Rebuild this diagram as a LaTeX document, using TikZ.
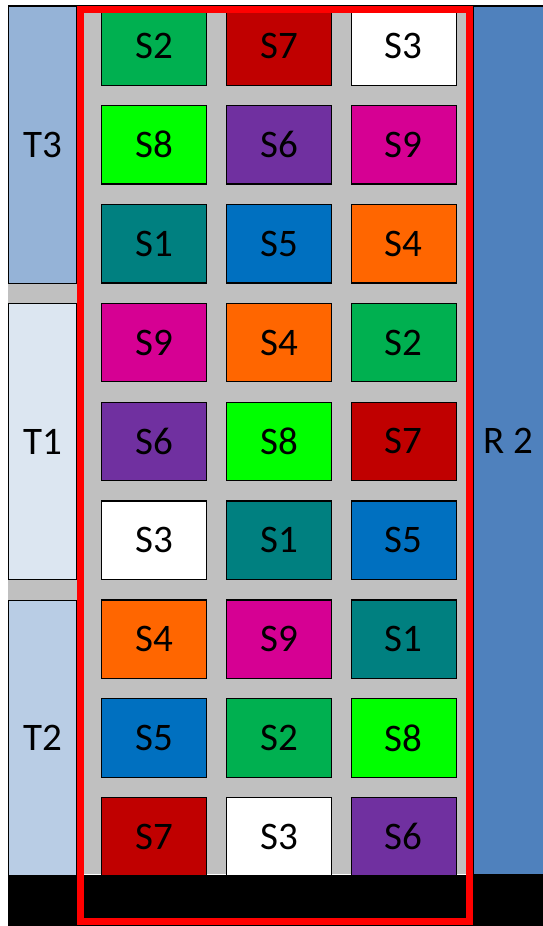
\documentclass[tikz,border=0pt]{standalone}
\usepackage{fontspec}
\setmainfont{Carlito}
\definecolor{cS1}{HTML}{008080}
\definecolor{cS2}{HTML}{00B050}
\definecolor{cS3}{HTML}{FFFFFF}
\definecolor{cS4}{HTML}{FF6600}
\definecolor{cS5}{HTML}{0070C0}
\definecolor{cS6}{HTML}{7030A0}
\definecolor{cS7}{HTML}{C00000}
\definecolor{cS8}{HTML}{00FF00}
\definecolor{cS9}{HTML}{D60093}
\definecolor{gridgrey}{HTML}{C0C0C0}
\definecolor{tthree}{HTML}{95B3D7}
\definecolor{tone}{HTML}{DCE6F1}
\definecolor{ttwo}{HTML}{B9CDE5}
\definecolor{rtwo}{HTML}{4F81BD}
\begin{document}
\begin{tikzpicture}[x=1pt,y=-1pt,
  blk/.style={draw=black, line width=1.3pt, minimum width=105pt, minimum height=78.5pt,
    inner sep=0pt, anchor=north west, font=\fontsize{39}{39}\selectfont},
  tbox/.style={draw=black, line width=1.3pt, minimum width=68pt,
    inner sep=0pt, anchor=north west, font=\fontsize{39}{39}\selectfont},
  redframe/.style={draw=red, line width=7pt}]
\useasboundingbox (0,0) rectangle (543,926);
% grey background of the grid
\fill[gridgrey] (8,6) rectangle (473,874);
% T column
\node[tbox, fill=tthree, minimum height=276.5pt] (T3) at (8,6) {T3};
\node[tbox, fill=tone, minimum height=276.5pt] (T1) at (8,302.6) {T1};
\node[tbox, fill=ttwo, minimum height=275.5pt] (T2) at (8,599.5) {T2};
% R column
\node[draw=black, line width=1.3pt, fill=rtwo, minimum width=70pt, minimum height=868pt,
  inner sep=0pt, anchor=north west, font=\fontsize{39}{39}\selectfont] (R2) at (473,6) {R 2};
% blocks
\foreach \r/\a/\b/\c in {0/2/7/3, 1/8/6/9, 2/1/5/4, 3/9/4/2, 4/6/8/7, 5/3/1/5, 6/4/9/1, 7/5/2/8, 8/7/3/6} {
  \node[blk, fill=cS\a] (b\r-1) at (101, {6+98.875*\r}) {S\a};
  \node[blk, fill=cS\b] (b\r-2) at (226, {6+98.875*\r}) {S\b};
  \node[blk, fill=cS\c] (b\r-3) at (350.5, {6+98.875*\r}) {S\c};
}
% top line
\draw[line width=1.3pt] (8,5.5) -- (543,5.5);
% black base bar
\fill[black] (8,874.5) rectangle (543,926);
% red frame
\draw[redframe] (80,9.5) rectangle (469.5,921.5);
\end{tikzpicture}
\end{document}
